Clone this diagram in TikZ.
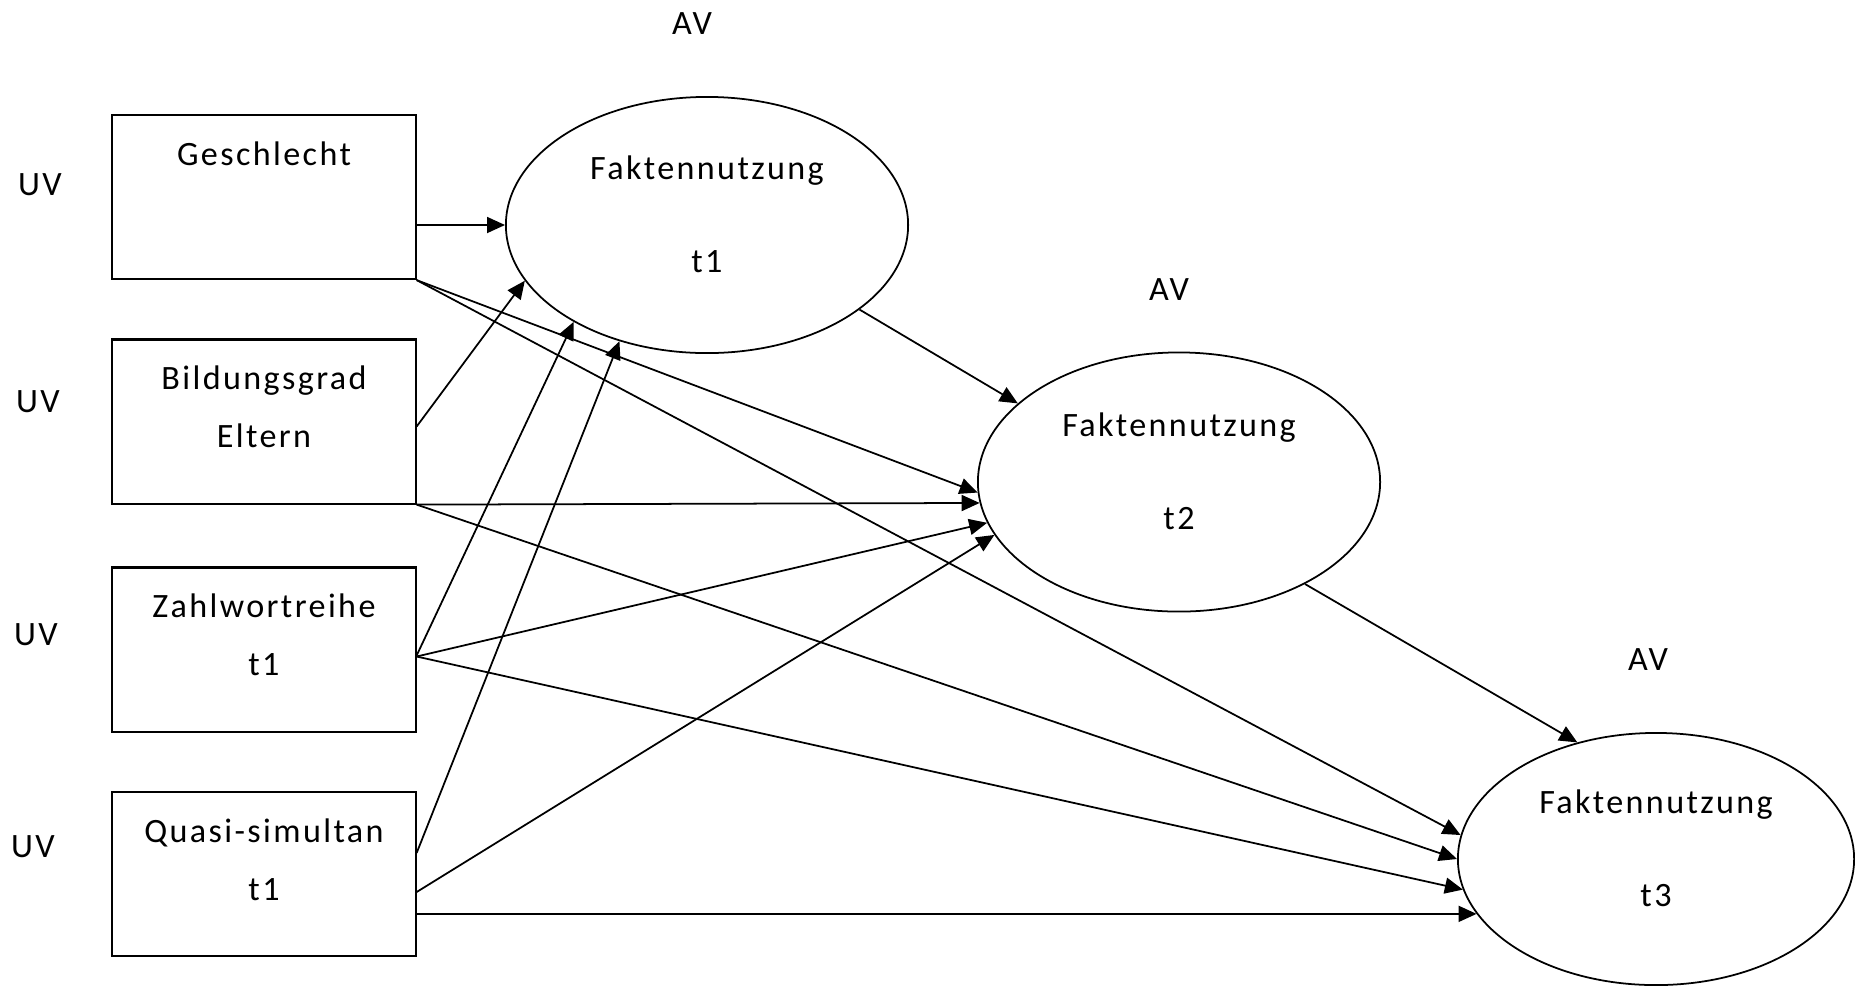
\documentclass[tikz,border=0pt]{standalone}
\usepackage{fontspec}
\setmainfont{Carlito}[LetterSpace=7]
\usetikzlibrary{arrows.meta,shapes.geometric}

\begin{document}
\begin{tikzpicture}[x=0.01cm,y=-0.01cm,font=\fontsize{9.7}{16.5}\selectfont,
  >={Triangle[length=0.18cm,width=0.16cm]},
  uvbox/.style={draw,line width=0.6pt,minimum width=3.03cm,minimum height=1.64cm,
    align=center,text height=0.77cm,text depth=0.25cm},
  avell/.style={draw,ellipse,line width=0.5pt,align=center,
    font=\fontsize{9.7}{26.2}\selectfont,text height=1.19cm,text depth=0.25cm},
  link/.style={->,line width=0.5pt}]
\useasboundingbox (0,0) rectangle (1855,987);
% boxes on the left
\node[uvbox,text height=0.25cm,text depth=0.87cm] (ges) at (264,197) {Geschlecht};
\node[uvbox] (bild) at (264,421.5) {Bildungsgrad\\Eltern};
\node[uvbox] (zahl) at (264,649.5) {Zahlwortreihe\\t1};
\node[uvbox] (quasi) at (264,874) {Quasi-simultan\\t1};
\node (uv1) at (40,185) {UV};
\node (uv2) at (38,402) {UV};
\node (uv3) at (36,635) {UV};
\node (uv4) at (33,847) {UV};
% ellipses
\node[avell,minimum width=4.02cm,minimum height=2.56cm] (f1) at (707,225) {Faktennutzung\\t1};
\node[avell,minimum width=4.02cm,minimum height=2.59cm] (f2) at (1179,482) {Faktennutzung\\t2};
\node[avell,minimum width=3.96cm,minimum height=2.52cm] (f3) at (1656,859) {Faktennutzung\\t3};
\node (av1) at (692,24) {AV};
\node (av2) at (1169,290) {AV};
\node (av3) at (1648,660) {AV};
% arrows
\draw[link] (ges.east |- f1.west) -- (f1.west);
\draw[link] (ges.south east) -- (f2.183);
\draw[link] (ges.south east) -- (f3.173);
\draw[link] ([yshift=-0.05cm]bild.east) -- (f1.197);
\draw[link] (bild.south east) -- (f2.186);
\draw[link] (bild.south east) -- (f3.180);
\draw[link] ([yshift=-0.06cm]zahl.east) -- (f1.216);
\draw[link] ([yshift=-0.07cm]zahl.east) -- (f2.192);
\draw[link] ([yshift=-0.07cm]zahl.east) -- (f3.189);
\draw[link] ([yshift=0.21cm]quasi.east) -- (f1.233);
\draw[link] ([yshift=-0.18cm]quasi.east) -- (f2.196);
\draw[link] (quasi.east |- f3.197) -- (f3.197);
\draw[link] (f1.331) -- (f2.154);
\draw[link] (f2.321) -- (f3.124);
\end{tikzpicture}
\end{document}
